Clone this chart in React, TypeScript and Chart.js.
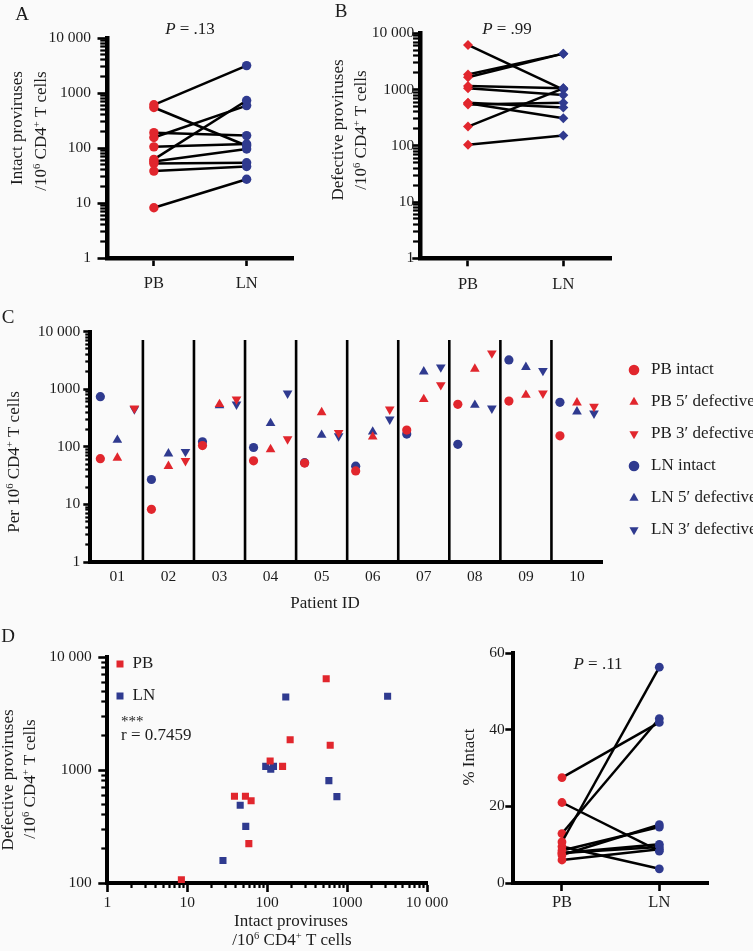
import React, { useEffect, useRef } from 'react';
import { Chart, registerables } from 'chart.js';

Chart.register(...registerables);

const W = 753;
const H = 951;
const FONT = "'Liberation Serif', 'Times New Roman', serif";
const RED = '#e1262d';
const BLUE = '#2f3a8f';
const INK = '#1c1c1c';
const BG = '#fafafa';
const AXIS_BOX = 70;

// ---------- data ----------
const patientIds = ['01', '02', '03', '04', '05', '06', '07', '08', '09', '10'];
const compartments = ['PB', 'LN'];
const logTickValues = [1, 10, 100, 1000, 10000];
const logTickLabels = ['1', '10', '100', '1000', '10 000'];
const pctTickLabels = ['0', '20', '40', '60'];

// Panel A: intact proviruses / 10^6 CD4+ T cells
const intactPB_A = [62, 8.2, 105, 57, 52, 38, 190, 545, 610, 155];
const intactLN_A = [730, 27, 118, 96, 54, 46, 168, 110, 3150, 590];

// Panel B: defective proviruses / 10^6 CD4+ T cells
const defectivePB_B = [540, 104, 1160, 220, 570, 580, 1850, 6200, 1650, 1050];
const defectiveLN_B = [580, 152, 1050, 1050, 310, 480, 4350, 1000, 4350, 800];

// Panel C: per patient
const pbIntactC = [62, 8.2, 105, 57, 52, 38, 195, 545, 620, 155];
const pb5C = [64, 46, 545, 90, 395, 149, 666, 2240, 790, 582];
const pb3C = [464, 57, 665, 136, 175, 446, 1180, 4200, 846, 496];
const lnIntactC = [740, 27, 122, 97, 53, 46, 166, 110, 3215, 590];
const ln5C = [131, 76, 520, 255, 160, 182, 2015, 530, 2400, 406];
const ln3C = [450, 82, 545, 846, 153, 299, 2400, 464, 2090, 380];
const separatorTop = 7100;

// Panel D (left): intact vs defective
const pbIntactD = [63, 8.45, 109, 59, 53.5, 39, 194, 548, 615, 156];
const pbDefectiveD = [535, 107, 1202, 223, 585, 585, 1855, 6430, 1653, 1077];
const lnIntactD = [746, 28, 120, 96, 54, 46, 171, 111, 3215, 592];
const lnDefectiveD = [581, 158, 1077, 1077, 317, 487, 4426, 1014, 4487, 805];
const corrStars = '***';
const corrText = 'r = 0.7459';

// Panel D (right): % intact
const pctPB = [10.7, 7.3, 7.8, 21, 8.5, 6.0, 9.5, 7.8, 27.5, 12.9];
const pctLN = [56.3, 15.2, 10.1, 8.3, 14.6, 8.8, 3.7, 9.4, 41.9, 42.9];

const pA = '.13';
const pB = '.99';
const pD = '.11';

// ---------- helpers ----------
type Seg = { t: string; sup?: boolean; it?: boolean };
type TextItem = { segs: Seg[]; x: number; y: number; size: number; rot?: number; align?: 'left' | 'center' | 'right' };

const perCells: Seg[] = [{ t: '/10' }, { t: '6', sup: true }, { t: ' CD4' }, { t: '+', sup: true }, { t: ' T cells' }];
const ROT = -Math.PI / 2;

function drawRich(ctx: CanvasRenderingContext2D, item: TextItem) {
  const { segs, x, y, size, rot = 0, align = 'center' } = item;
  ctx.save();
  ctx.translate(x, y);
  ctx.rotate(rot);
  ctx.fillStyle = INK;
  ctx.textBaseline = 'middle';
  ctx.textAlign = 'left';
  const fontOf = (s: Seg) => `${s.it ? 'italic ' : ''}${s.sup ? size * 0.62 : size}px ${FONT}`;
  const widths = segs.map((s) => {
    ctx.font = fontOf(s);
    return ctx.measureText(s.t).width;
  });
  const total = widths.reduce((a, b) => a + b, 0);
  let cx = align === 'center' ? -total / 2 : align === 'right' ? -total : 0;
  segs.forEach((s, i) => {
    ctx.font = fontOf(s);
    ctx.fillText(s.t, cx, s.sup ? -size * 0.3 : 0);
    cx += widths[i];
  });
  ctx.restore();
}

const textPlugin = (items: TextItem[]) => ({
  id: 'panelTexts',
  afterDraw(chart: any) {
    items.forEach((it) => drawRich(chart.ctx, it));
  },
});

// Lets the legend take no room in the layout, then puts it at a fixed spot.
const legendPlace = (left: number, top: number, right: number, bottom: number) => ({
  id: 'legendPlace',
  beforeLayout(chart: any) {
    const lg = chart.legend;
    if (lg && !lg.__patched) {
      const origFit = lg.fit;
      lg.fit = function () {
        origFit.call(this);
        this.width = 0;
      };
      lg.__patched = true;
    }
  },
  afterLayout(chart: any) {
    const lg = chart.legend;
    if (lg) {
      lg.left = left;
      lg.top = top;
      lg.right = right;
      lg.bottom = bottom;
      lg.width = right - left;
      lg.height = bottom - top;
    }
  },
});

function logTicks(min: number, max: number) {
  const out: any[] = [];
  const e0 = Math.round(Math.log10(min));
  const e1 = Math.round(Math.log10(max));
  for (let e = e0; e < e1; e++) {
    for (let m = 1; m <= 9; m++) out.push({ value: m * Math.pow(10, e), major: m === 1 });
  }
  out.push({ value: max, major: true });
  return out;
}

function logLabel(v: number) {
  const i = logTickValues.indexOf(v);
  return i >= 0 ? logTickLabels[i] : '';
}

function logAxis(o: { min: number; max: number; vertical: boolean; tl: number; bw: number; minor: number; pad: number; size: number }) {
  const seg = o.tl - o.bw / 2;
  return {
    type: 'logarithmic',
    position: o.vertical ? 'left' : 'bottom',
    min: o.min,
    max: o.max,
    afterBuildTicks: (s: any) => {
      s.ticks = logTicks(o.min, o.max);
    },
    afterFit: (s: any) => {
      if (o.vertical) s.width = AXIS_BOX;
      else s.height = AXIS_BOX;
    },
    border: { display: true, color: '#000', width: o.bw },
    grid: {
      display: true,
      drawOnChartArea: false,
      drawTicks: true,
      tickLength: o.tl,
      tickColor: '#000',
      tickWidth: (c: any) => (c.tick && c.tick.major ? 2.6 : 2.2),
      tickBorderDash: (c: any) =>
        c.tick && c.tick.major ? [] : o.vertical ? [o.minor, Math.max(seg - o.minor, 0.01)] : [o.minor, 100],
      tickBorderDashOffset: (c: any) => (c.tick && c.tick.major ? 0 : o.vertical ? o.minor : 0),
    },
    ticks: {
      autoSkip: false,
      maxRotation: 0,
      padding: o.pad,
      color: INK,
      font: { family: FONT, size: o.size },
      callback: (v: any) => logLabel(v),
    },
  };
}

function categoryAxis(tl: number, bw: number, pad: number, size: number) {
  return {
    type: 'category',
    position: 'bottom',
    offset: true,
    afterFit: (s: any) => {
      s.height = AXIS_BOX;
    },
    border: { display: true, color: '#000', width: bw },
    grid: { display: true, offset: false, drawOnChartArea: false, drawTicks: true, tickLength: tl, tickWidth: 2.6, tickColor: '#000' },
    ticks: { padding: pad, color: INK, font: { family: FONT, size }, maxRotation: 0, autoSkip: false },
  };
}

// chart area edges in page pixels -> layout padding (axes boxes are fixed at AXIS_BOX)
const area = (L: number, T: number, R: number, B: number) => ({
  left: L - AXIS_BOX,
  top: T,
  right: W - R,
  bottom: H - B - AXIS_BOX,
});

const baseOptions = (padding: any, scales: any, legend: any = { display: false }) => ({
  responsive: false,
  animation: false,
  events: [],
  layout: { padding },
  plugins: { legend, tooltip: { enabled: false }, title: { display: false } },
  scales,
});

function pairedConfig(pb: number[], ln: number[], style: string, radius: number, yScale: any, padding: any, texts: TextItem[]) {
  return {
    type: 'line',
    data: {
      labels: compartments,
      datasets: pb.map((v, i) => ({
        label: patientIds[i],
        data: [v, ln[i]],
        borderColor: '#000',
        borderWidth: 2.5,
        pointBackgroundColor: [RED, BLUE],
        pointBorderColor: [RED, BLUE],
        pointBorderWidth: 0,
        pointRadius: radius,
        pointStyle: style,
        tension: 0,
        fill: false,
      })),
    },
    options: baseOptions(padding, { x: categoryAxis(8, 4.5, 8, 16.5), y: yScale }),
    plugins: [textPlugin(texts)],
  };
}

// ---------- configs ----------
function configA() {
  return pairedConfig(
    intactPB_A,
    intactLN_A,
    'circle',
    4.7,
    logAxis({ min: 1, max: 10000, vertical: true, tl: 10, bw: 4.5, minor: 5, pad: 6.5, size: 15.5 }),
    area(107.5, 38, 293, 258),
    [
      { segs: [{ t: 'A' }], x: 22, y: 15, size: 19 },
      { segs: [{ t: 'P', it: true }, { t: ' = ' + pA }], x: 190, y: 30, size: 17 },
      { segs: [{ t: 'Intact proviruses' }], x: 18, y: 128, size: 17, rot: ROT },
      { segs: perCells, x: 42, y: 131, size: 17, rot: ROT },
    ]
  );
}

function configB() {
  const cfg: any = pairedConfig(
    defectivePB_B,
    defectiveLN_B,
    'rectRot',
    5,
    logAxis({ min: 1, max: 10000, vertical: true, tl: 8, bw: 4.5, minor: 5, pad: -2, size: 15.5 }),
    area(420.3, 33.3, 611, 258.3),
    [
      { segs: [{ t: 'B' }], x: 341, y: 12, size: 19 },
      { segs: [{ t: 'P', it: true }, { t: ' = ' + pB }], x: 507, y: 30, size: 17 },
      { segs: [{ t: 'Defective proviruses' }], x: 339, y: 130, size: 17, rot: ROT },
      { segs: perCells, x: 362, y: 130, size: 17, rot: ROT },
    ]
  );
  cfg.options.scales.x.ticks.padding = 8.3;
  return cfg;
}

function configC() {
  const series = [
    { label: 'PB intact', data: pbIntactC, color: RED, style: 'circle', rot: 0, slot: 0 },
    { label: 'PB 5\u2032 defective', data: pb5C, color: RED, style: 'triangle', rot: 0, slot: 1 },
    { label: 'PB 3\u2032 defective', data: pb3C, color: RED, style: 'triangle', rot: 180, slot: 2 },
    { label: 'LN intact', data: lnIntactC, color: BLUE, style: 'circle', rot: 0, slot: 0 },
    { label: 'LN 5\u2032 defective', data: ln5C, color: BLUE, style: 'triangle', rot: 0, slot: 1 },
    { label: 'LN 3\u2032 defective', data: ln3C, color: BLUE, style: 'triangle', rot: 180, slot: 2 },
  ];
  const slotOffset = [-1 / 3, 0, 1 / 3];
  const datasets: any[] = series.map((s) => ({
    type: 'scatter',
    label: s.label,
    data: s.data.map((v, i) => ({ x: i + 1 + slotOffset[s.slot], y: v })),
    backgroundColor: s.color,
    borderColor: s.color,
    borderWidth: 0,
    pointStyle: s.style,
    pointRotation: s.rot,
    pointRadius: s.style === 'circle' ? 4.6 : 5.6,
    showLine: false,
  }));
  patientIds.slice(1).forEach((_, i) => {
    const sx = i + 1.5;
    datasets.push({
      type: 'line',
      label: 'sep',
      data: [
        { x: sx, y: 1 },
        { x: sx, y: separatorTop },
      ],
      borderColor: '#000',
      borderWidth: 2.6,
      pointRadius: 0,
      fill: false,
      showLine: true,
    });
  });
  return {
    type: 'scatter',
    data: { datasets },
    options: baseOptions(
      area(90.3, 331.5, 602, 562),
      {
        x: {
          type: 'linear',
          position: 'bottom',
          min: 0.47,
          max: 10.49,
          afterBuildTicks: (s: any) => {
            s.ticks = patientIds.map((_, i) => ({ value: i + 1 }));
          },
          afterFit: (s: any) => {
            s.height = AXIS_BOX;
          },
          border: { display: true, color: '#000', width: 4 },
          grid: { display: false, drawTicks: false, drawOnChartArea: false },
          ticks: {
            autoSkip: false,
            maxRotation: 0,
            padding: 5.7,
            color: INK,
            font: { family: FONT, size: 15.5 },
            callback: (v: any) => patientIds[Math.round(v) - 1] ?? '',
          },
        },
        y: logAxis({ min: 1, max: 10000, vertical: true, tl: 7, bw: 4, minor: 3, pad: 3, size: 15.5 }),
      },
      {
        display: true,
        position: 'left',
        align: 'start',
        labels: {
          usePointStyle: true,
          boxWidth: 17,
          boxHeight: 7.5,
          padding: 15,
          color: INK,
          font: { family: FONT, size: 17 },
          filter: (item: any) => item.datasetIndex < 6,
        },
      }
    ),
    plugins: [
      legendPlace(610.5, 346.5, 753, 600),
      textPlugin([
        { segs: [{ t: 'C' }], x: 8, y: 318, size: 19 },
        { segs: [{ t: 'Per 10' }, { t: '6', sup: true }, { t: ' CD4' }, { t: '+', sup: true }, { t: ' T cells' }], x: 15, y: 462, size: 17, rot: ROT },
        { segs: [{ t: 'Patient ID' }], x: 325, y: 604, size: 17 },
      ]),
    ],
  };
}

function configD1() {
  return {
    type: 'scatter',
    data: {
      datasets: [
        {
          label: compartments[0],
          data: pbIntactD.map((x, i) => ({ x, y: pbDefectiveD[i] })),
          backgroundColor: RED,
          borderColor: RED,
          borderWidth: 0,
          pointStyle: 'rect',
          pointRadius: 5,
        },
        {
          label: compartments[1],
          data: lnIntactD.map((x, i) => ({ x, y: lnDefectiveD[i] })),
          backgroundColor: BLUE,
          borderColor: BLUE,
          borderWidth: 0,
          pointStyle: 'rect',
          pointRadius: 5,
        },
      ],
    },
    options: baseOptions(
      area(107.3, 657, 427, 883),
      {
        x: logAxis({ min: 1, max: 10000, vertical: false, tl: 9, bw: 4, minor: 3, pad: 1.4, size: 15.5 }),
        y: logAxis({ min: 100, max: 10000, vertical: true, tl: 9, bw: 4, minor: 4, pad: 6.5, size: 15.5 }),
      },
      {
        display: true,
        position: 'left',
        align: 'start',
        labels: {
          usePointStyle: true,
          boxWidth: 8,
          boxHeight: 7,
          padding: 15,
          color: INK,
          font: { family: FONT, size: 17 },
        },
      }
    ),
    plugins: [
      legendPlace(101, 640.5, 260, 760),
      textPlugin([
        { segs: [{ t: 'D' }], x: 8, y: 637, size: 19 },
        { segs: [{ t: corrStars }], x: 121, y: 722, size: 15, align: 'left' },
        { segs: [{ t: corrText }], x: 121, y: 736, size: 17, align: 'left' },
        { segs: [{ t: 'Defective proviruses' }], x: 9, y: 780, size: 17, rot: ROT },
        { segs: perCells, x: 31, y: 779, size: 17, rot: ROT },
        { segs: [{ t: 'Intact proviruses' }], x: 291, y: 922, size: 17 },
        { segs: perCells, x: 292, y: 941, size: 17 },
      ]),
    ],
  };
}

function configD2() {
  const cfg: any = pairedConfig(
    pctPB,
    pctLN,
    'circle',
    4.4,
    {
      type: 'linear',
      position: 'left',
      min: 0,
      max: 60,
      afterFit: (s: any) => {
        s.width = AXIS_BOX;
      },
      border: { display: true, color: '#000', width: 4 },
      grid: { display: true, drawOnChartArea: false, drawTicks: true, tickLength: 8, tickWidth: 2.6, tickColor: '#000' },
      ticks: {
        stepSize: 20,
        autoSkip: false,
        padding: 0.5,
        color: INK,
        font: { family: FONT, size: 15.5 },
        callback: (_v: any, i: number) => pctTickLabels[i] ?? '',
      },
    },
    area(513.3, 653, 708, 883),
    [
      { segs: [{ t: 'P', it: true }, { t: ' = ' + pD }], x: 598, y: 665, size: 17 },
      { segs: [{ t: '% Intact' }], x: 470, y: 757, size: 17, rot: ROT },
    ]
  );
  cfg.options.scales.x.ticks.padding = 1.6;
  cfg.options.scales.x.border.width = 4;
  return cfg;
}

export default function App() {
  const r1 = useRef<HTMLCanvasElement | null>(null);
  const r2 = useRef<HTMLCanvasElement | null>(null);
  const r3 = useRef<HTMLCanvasElement | null>(null);
  const r4 = useRef<HTMLCanvasElement | null>(null);
  const r5 = useRef<HTMLCanvasElement | null>(null);
  const refs = [r1, r2, r3, r4, r5];

  useEffect(() => {
    const makers = [configA, configB, configC, configD1, configD2];
    const charts = makers.map((mk, i) => new Chart(refs[i].current as HTMLCanvasElement, mk() as any));
    return () => charts.forEach((c) => c.destroy());
  }, []);

  return (
    <div style={{ position: 'fixed', left: 0, top: 0, width: W, height: H, background: BG, overflow: 'hidden' }}>
      {refs.map((r, i) => (
        <canvas
          key={i}
          ref={r}
          width={W}
          height={H}
          style={{ position: 'absolute', left: 0, top: 0, width: W, height: H }}
        />
      ))}
    </div>
  );
}
